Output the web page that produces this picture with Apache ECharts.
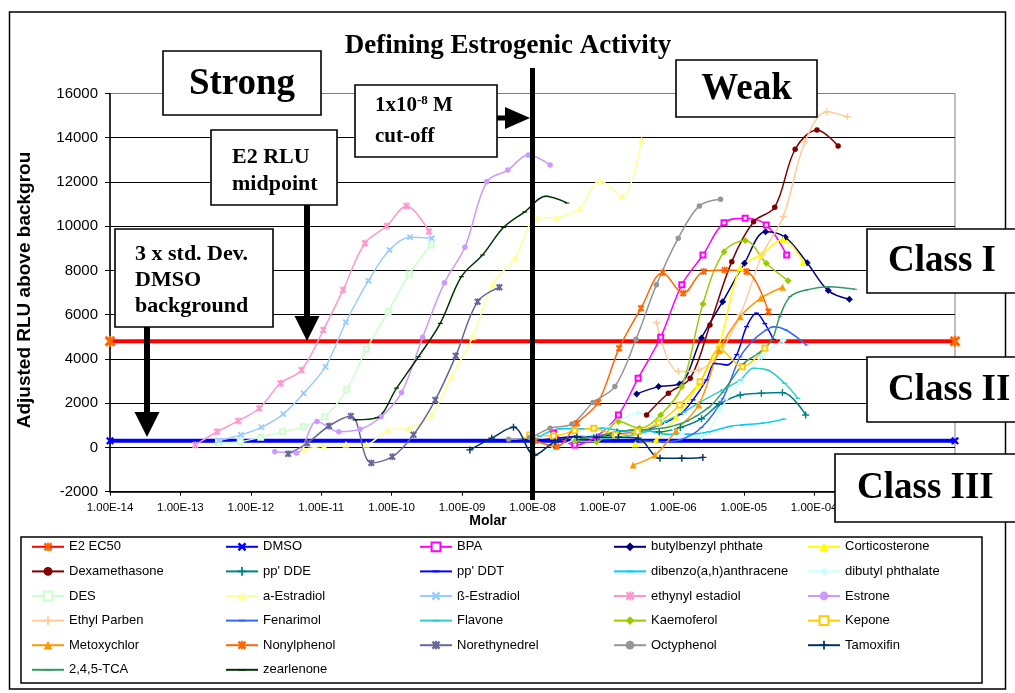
<!DOCTYPE html>
<html><head><meta charset="utf-8">
<script src="https://cdn.jsdelivr.net/npm/echarts@6/dist/echarts.min.js"></script>
<style>html,body{margin:0;padding:0;background:#fff}#c{width:1015px;height:693px}</style>
</head><body><div id="c"></div><script>
// x = log10(molar concentration), y = adjusted RLU above background
const xTickMin = -14, xTickMax = -2;           // 1.00E-14 ... 1.00E-02
const yTickMin = -2000, yTickMax = 16000, yStep = 2000;
const cutoffLogM = -8;                          // 1x10-8 M cut-off

const E2_EC50 = [[-14,4800],[-2,4800]];
const DMSO = [[-14,300],[-2,300]];
const BPA = [[-7.7,640],[-7.4,110],[-7.09,500],[-6.78,1470],[-6.5,3130],[-6.18,4980],[-5.88,7350],[-5.58,8700],[-5.28,10160],[-4.98,10360],[-4.68,10060],[-4.39,8700]];
const BUTYLBENZYL = [[-6.52,2420],[-6.21,2750],[-5.91,2870],[-5.6,4950],[-5.3,6590],[-4.99,8330],[-4.69,9750],[-4.41,9500],[-4.1,8350],[-3.8,7090],[-3.5,6700]];
const CORTICOSTERONE = [[-6.54,160],[-6.24,340],[-5.96,1390],[-5.65,2820],[-5.35,4650],[-5.05,8130],[-4.76,8700],[-4.44,9410],[-4.16,8400]];
const DEXAMETHASONE = [[-6.38,1470],[-6.07,2450],[-5.76,3130],[-5.48,5540],[-5.17,8400],[-4.86,10200],[-4.56,10860],[-4.27,13480],[-3.96,14350],[-3.66,13630]];
const PP_DDE = [[-7.4,400],[-7.1,500],[-6.8,700],[-6.5,800],[-6.2,700],[-5.9,900],[-5.6,1300],[-5.35,1950],[-5.05,2370],[-4.75,2450],[-4.45,2480],[-4.12,1470]];
const PP_DDT = [[-8.0,300],[-7.7,400],[-7.4,500],[-7.1,500],[-6.8,600],[-6.5,700],[-6.2,1000],[-5.9,1500],[-5.72,2150],[-5.53,3050],[-5.41,3800],[-5.24,3730],[-5.1,4200],[-4.96,5460],[-4.82,6070],[-4.7,5600],[-4.58,4890]];
const DIBENZO = [[-7.9,500],[-7.6,850],[-7.3,850],[-7.0,870],[-6.7,750],[-6.4,750],[-6.1,600],[-5.8,600],[-5.5,700],[-5.2,950],[-5.02,1020],[-4.74,1090],[-4.43,1280]];
const DIBUTYL = [[-7.72,-110],[-7.41,340],[-7.1,670],[-6.79,1170],[-6.5,1550],[-6.19,1240],[-5.89,600],[-5.6,500],[-5.34,1700],[-5.04,3000],[-4.75,4100],[-4.44,4850]];
const DES = [[-12.46,220],[-12.15,260],[-11.86,460],[-11.55,710],[-11.25,940],[-10.95,1390],[-10.64,2600],[-10.36,4440],[-10.05,6140],[-9.75,7840],[-9.44,9150]];
const A_ESTRADIOL = [[-11.25,-80],[-10.96,60],[-10.65,150],[-10.36,150],[-10.05,790],[-9.75,870],[-9.44,1470],[-9.15,3200],[-8.85,5000],[-8.56,7420],[-8.25,8550],[-7.94,10360],[-7.66,10400],[-7.33,10810],[-7.04,12060],[-6.73,11340],[-6.45,13900]];
const B_ESTRADIOL = [[-12.45,310],[-12.14,570],[-11.85,910],[-11.54,1510],[-11.25,2450],[-10.94,3650],[-10.65,5660],[-10.33,7540],[-10.03,8930],[-9.74,9500],[-9.43,9460]];
const ETHYNYL = [[-12.79,110],[-12.48,710],[-12.18,1200],[-11.88,1770],[-11.58,2900],[-11.28,3500],[-10.97,5310],[-10.69,7120],[-10.38,9230],[-10.07,10010],[-9.79,10920],[-9.47,9760]];
const ESTRONE = [[-11.66,-190],[-11.35,-250],[-11.06,1170],[-10.75,710],[-10.45,820],[-10.15,1390],[-9.86,2480],[-9.56,4980],[-9.25,7450],[-8.96,9050],[-8.65,12010],[-8.35,12540],[-8.06,13220],[-7.75,12770]];
const ETHYL_PARBEN = [[-6.24,5640],[-5.93,3430],[-5.64,3500],[-5.34,4300],[-5.05,6000],[-4.74,8700],[-4.44,10430],[-4.13,13820],[-3.82,15180],[-3.53,14950]];
const FENARIMOL = [[-6.5,300],[-6.2,250],[-5.9,350],[-5.6,900],[-5.3,2200],[-5.05,4100],[-4.86,4860],[-4.68,5310],[-4.58,5460],[-4.4,5310],[-4.11,4630]];
const FLAVONE = [[-7.0,400],[-6.7,500],[-6.4,700],[-6.1,1200],[-5.85,1600],[-5.62,2050],[-5.3,2600],[-5.05,3050],[-4.86,3580],[-4.66,3500],[-4.42,2900],[-4.23,2220]];
const KAEMOFEROL = [[-7.39,300],[-7.09,260],[-6.78,1170],[-6.48,870],[-6.18,1470],[-5.88,2750],[-5.58,6490],[-5.28,8850],[-4.98,9350],[-4.68,8330],[-4.37,7540]];
const KEPONE = [[-8.04,560],[-7.7,520],[-7.4,760],[-7.13,870],[-6.82,570],[-6.51,710],[-6.21,1120],[-5.91,1920],[-5.62,2970],[-5.34,4440],[-5.02,3650],[-4.7,4480]];
const METOXYCHLOR = [[-6.57,-790],[-6.26,-340],[-5.96,760],[-5.64,1920],[-5.35,4380],[-5.05,5910],[-4.76,6740],[-4.45,7240]];
const NONYLPHENOL = [[-7.96,300],[-7.66,40],[-7.37,1090],[-7.07,2030],[-6.77,4480],[-6.46,6290],[-6.15,7900],[-5.86,6970],[-5.57,7950],[-5.27,8020],[-4.96,7950],[-4.65,6140]];
const NORETHYNEDREL = [[-11.47,-290],[-11.2,190],[-10.89,970],[-10.58,1420],[-10.29,-700],[-9.99,-420],[-9.69,570],[-9.38,2150],[-9.09,4140],[-8.78,6590],[-8.47,7240]];
const OCTYPHENOL = [[-8.34,370],[-8.04,450],[-7.75,870],[-7.44,1060],[-7.14,2030],[-6.83,2750],[-6.53,4890],[-6.24,7350],[-5.93,9460],[-5.63,10920],[-5.33,11220]];
const TAMOXIFIN = [[-8.89,-110],[-8.58,420],[-8.27,910],[-7.97,-340],[-7.68,260],[-7.37,460],[-7.09,460],[-6.78,460],[-6.5,420],[-6.19,-490],[-5.88,-490],[-5.58,-450]];
const TCA = [[-7.3,400],[-7.0,550],[-6.7,750],[-6.4,800],[-6.1,900],[-5.8,1200],[-5.5,1800],[-5.3,2500],[-5.0,3800],[-4.79,4260],[-4.6,4860],[-4.49,5910],[-4.34,6820],[-4.11,7120],[-3.78,7270],[-3.42,7150]];
const ZEARLENONE = [[-10.52,1250],[-10.21,1350],[-9.93,2680],[-9.62,4100],[-9.31,5610],[-9.01,7720],[-8.71,8700],[-8.41,9950],[-8.11,10650],[-7.81,11350],[-7.51,11050]];

// ---- styles ----
const XS = 'path://M0,2L2,0L5,3L8,0L10,2L7,5L10,8L8,10L5,7L2,10L0,8L3,5Z';
const STAR = XS + 'M4,0H6V10H4Z';
const PLUS = 'path://M4,0H6V4H10V6H6V10H4V6H0V4H4Z';
const DASH = 'path://M0,0L0.01,0L0,0.01ZM10,10L9.99,10L10,9.99ZM1,4H9V6H1Z';
const SERIES = [
 ['E2 EC50', E2_EC50, '#FF0000', '#FF6600', STAR, 11, 4],
 ['DMSO', DMSO, '#0000FF', '#0000FF', XS, 8, 4],
 ['BPA', BPA, '#FF00FF', '#FF00FF', 'emptyRect', 5, 1.5],
 ['butylbenzyl phthate', BUTYLBENZYL, '#000080', '#000080', 'diamond', 7, 1.5],
 ['Corticosterone', CORTICOSTERONE, '#FFFF00', '#FFFF00', 'triangle', 7, 1.5],
 ['Dexamethasone', DEXAMETHASONE, '#800000', '#800000', 'circle', 5.5, 1.5],
 ["pp' DDE", PP_DDE, '#008080', '#008080', PLUS, 7, 1.5],
 ["pp' DDT", PP_DDT, '#0000FF', '#0000FF', DASH, 6, 1.5],
 ['dibenzo(a,h)anthracene', DIBENZO, '#00CCFF', '#00CCFF', DASH, 6, 1.5],
 ['dibutyl phthalate', DIBUTYL, '#CCFFFF', '#CCFFFF', 'diamond', 7, 1.5],
 ['DES', DES, '#CCFFCC', '#CCFFCC', 'emptyRect', 5, 1.5],
 ['a-Estradiol', A_ESTRADIOL, '#FFFF99', '#FFFF99', 'triangle', 7, 1.5],
 ['ß-Estradiol', B_ESTRADIOL, '#99CCFF', '#99CCFF', XS, 6.5, 1.5],
 ['ethynyl estadiol', ETHYNYL, '#FF99CC', '#FF99CC', STAR, 7, 1.5],
 ['Estrone', ESTRONE, '#CC99FF', '#CC99FF', 'circle', 5.5, 1.5],
 ['Ethyl Parben', ETHYL_PARBEN, '#FFCC99', '#FFCC99', PLUS, 7, 1.5],
 ['Fenarimol', FENARIMOL, '#3366FF', '#3366FF', DASH, 5, 1.5],
 ['Flavone', FLAVONE, '#33CCCC', '#33CCCC', DASH, 6, 1.5],
 ['Kaemoferol', KAEMOFEROL, '#99CC00', '#99CC00', 'diamond', 7, 1.5],
 ['Kepone', KEPONE, '#FFCC00', '#FFCC00', 'emptyRect', 5, 1.5],
 ['Metoxychlor', METOXYCHLOR, '#FF9900', '#FF9900', 'triangle', 7, 1.5],
 ['Nonylphenol', NONYLPHENOL, '#FF6600', '#FF6600', STAR, 7, 1.5],
 ['Norethynedrel', NORETHYNEDREL, '#666699', '#666699', STAR, 7, 1.5],
 ['Octyphenol', OCTYPHENOL, '#969696', '#969696', 'circle', 5.5, 1.5],
 ['Tamoxifin', TAMOXIFIN, '#003366', '#003366', PLUS, 7, 1.5],
 ['2,4,5-TCA', TCA, '#339966', '#339966', DASH, 5, 1.5],
 ['zearlenone', ZEARLENONE, '#003300', '#003300', DASH, 6, 1.5]
];

const SANS = 'Liberation Sans', SERIF = 'Liberation Serif';
const chart = echarts.init(document.getElementById('c'), null, {renderer:'canvas'});

function fmtX(v){ const a = Math.abs(Math.round(v)); return '1.00E' + (v < 0 ? '-' : '+') + (a < 10 ? '0' + a : a); }

chart.setOption({
  animation: false,
  backgroundColor: '#fff',
  grid: { left: 110, right: 60, top: 93.5, bottom: 201.3, show: true, borderColor: '#808080', borderWidth: 1, outerBoundsMode: 'none', containLabel: false },
  xAxis: {
    type: 'value', min: xTickMin, max: xTickMax, interval: 1,
    axisLine: { show: true, onZero: false, lineStyle: { color: '#000', width: 1.5 } },
    axisTick: { show: true, length: 4, lineStyle: { color: '#000' } },
    axisLabel: { formatter: fmtX, color: '#000', fontFamily: SANS, fontSize: 11.5, margin: 10, showMinLabel: true, showMaxLabel: true },
    splitLine: { show: false }
  },
  yAxis: {
    type: 'value', min: yTickMin, max: yTickMax, interval: yStep,
    axisLine: { show: true, onZero: false, lineStyle: { color: '#000', width: 1.5 } },
    axisTick: { show: true, length: 5, lineStyle: { color: '#000' } },
    axisLabel: { formatter: v => String(v), color: '#000', fontFamily: SANS, fontSize: 15, margin: 12 },
    splitLine: { show: true, showMaxLine: false, lineStyle: { color: '#000', width: 1 } }
  },
  legend: {
    left: 31, top: 539, width: 970, padding: 0,
    itemWidth: 32, itemHeight: 11, itemGap: 9,
    textStyle: { fontFamily: SANS, fontSize: 13, color: '#000', width: 147, lineHeight: 15.6 },
    data: SERIES.map(s => s[0])
  },
  series: SERIES.map(([name, data, lc, mc, sym, size, lw]) => ({
    type: 'line', name, data, smooth: 0.35,
    symbol: sym, symbolSize: size, showAllSymbol: true,
    lineStyle: { color: lc, width: lw },
    itemStyle: { color: mc, borderColor: mc, borderWidth: sym === 'emptyRect' ? 1.2 : 0 },
    emphasis: { disabled: true }, silent: true
  }))
});

// annotation layer
const cx = chart.convertToPixel({ xAxisIndex: 0 }, cutoffLogM);
function box(x, y, w, h){ return { type: 'rect', z: 100, shape: { x, y, width: w, height: h }, style: { fill: '#fff', stroke: '#000', lineWidth: 1.6 } }; }
function txt(x, y, text, font, align){ return { type: 'text', z: 101, x, y, style: { text, font, fill: '#000', align: align || 'left', verticalAlign: 'middle' } }; }
function poly(pts){ return { type: 'polygon', z: 101, shape: { points: pts }, style: { fill: '#000' } }; }
function bar(x, y, w, h){ return { type: 'rect', z: 101, shape: { x, y, width: w, height: h }, style: { fill: '#000' } }; }
const B22 = 'bold 22px ' + SERIF, B37 = 'bold 37px ' + SERIF;

chart.setOption({
  graphic: [
    { type: 'rect', z: 50, shape: { x: 9.5, y: 12, width: 996, height: 677 }, style: { fill: 'none', stroke: '#000', lineWidth: 1.5 } },
    { type: 'rect', z: 50, shape: { x: 21, y: 537, width: 961, height: 146 }, style: { fill: 'none', stroke: '#000', lineWidth: 1.5 } },
    txt(508, 46, 'Defining Estrogenic Activity', 'bold 27px ' + SERIF, 'center'),
    { type: 'text', z: 101, x: 25, y: 290, rotation: Math.PI / 2, style: { text: 'Adjusted RLU above backgrou', font: 'bold 19px ' + SANS, fill: '#000', align: 'center', verticalAlign: 'middle' } },
    txt(488, 521, 'Molar', 'bold 14px ' + SANS, 'center'),
    // cut-off bar
    bar(cx - 2.5, 68, 5, 432),
    // Strong / Weak
    box(163, 51, 158, 64), txt(242, 84, 'Strong', B37, 'center'),
    box(676, 60, 141, 57), txt(746.5, 89, 'Weak', B37, 'center'),
    // 1x10-8 M cut-off
    box(355, 85, 142, 72),
    { type: 'text', z: 101, x: 375, y: 106, style: { text: '{a|1x10}{s|-8}{a| M}', fill: '#000', verticalAlign: 'middle', rich: { a: { font: 'bold 21px ' + SERIF, lineHeight: 24, verticalAlign: 'middle' }, s: { font: 'bold 13px ' + SERIF, lineHeight: 24, verticalAlign: 'top' } } } },
    txt(375, 137, 'cut-off', 'bold 21px ' + SERIF),
    bar(497, 115.5, 10, 5), poly([[505, 107], [530, 118], [505, 129]]),
    // E2 RLU midpoint
    box(211, 130, 126, 75), txt(232, 157, 'E2 RLU', B22), txt(232, 184, 'midpoint', B22),
    bar(304, 205, 6, 112), poly([[294.5, 316], [319.5, 316], [307, 341]]),
    // 3 x std. Dev.
    box(115, 229, 158, 98), txt(135, 254, '3 x std. Dev.', B22), txt(135, 280, 'DMSO', B22), txt(135, 306, 'background', B22),
    bar(144, 327, 6, 86), poly([[134.5, 412], [159.5, 412], [147, 437]]),
    // Classes
    box(867, 229, 160, 64), txt(888, 261, 'Class I', B37),
    box(867, 357, 160, 65), txt(888, 390, 'Class II', B37),
    box(835, 454, 190, 68), txt(857, 488, 'Class III', B37)
  ]
});
</script></body></html>
